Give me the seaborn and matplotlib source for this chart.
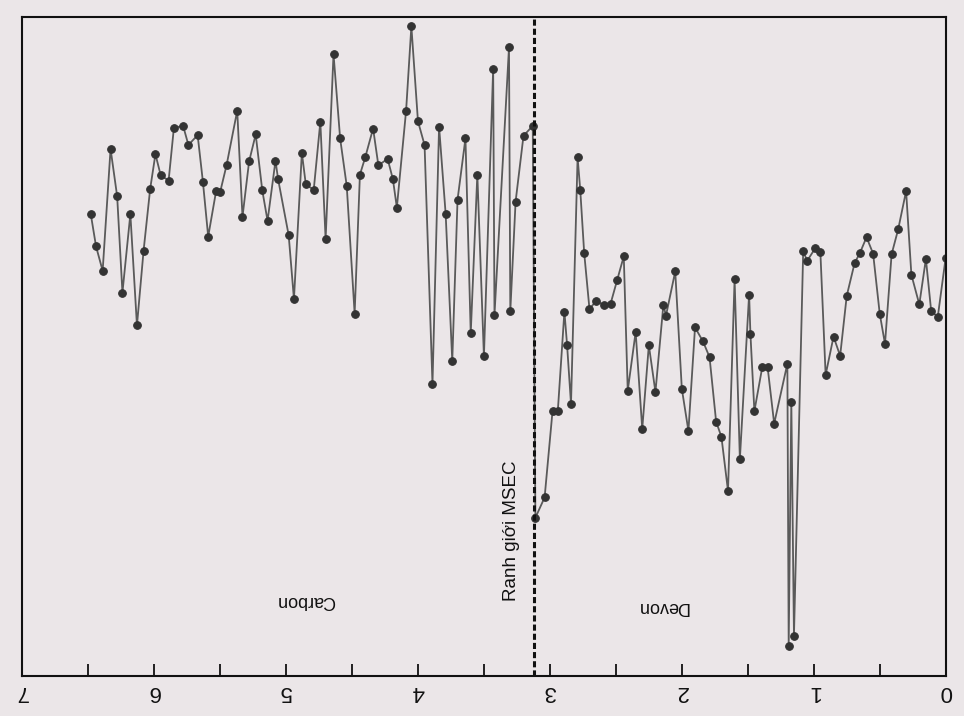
"""Magnetic susceptibility curve across the Devon / Carbon boundary (MSEC)."""

import matplotlib
matplotlib.use("Agg")
import matplotlib.pyplot as plt
import pandas as pd
import seaborn as sns
from matplotlib.ticker import MultipleLocator, NullFormatter

# Values (depth in m, signal in arbitrary units 0-100)
depth_carbon = [
    6.48, 6.44, 6.39, 6.33, 6.28, 6.24, 6.18, 6.13, 6.08, 6.03, 5.99, 5.95, 5.89,
    5.85, 5.78, 5.74, 5.67, 5.63, 5.59, 5.53, 5.50, 5.45, 5.37, 5.33, 5.28, 5.23,
    5.18, 5.14, 5.08, 5.06, 4.98, 4.94, 4.88, 4.85, 4.79, 4.74, 4.70, 4.64, 4.59,
    4.54, 4.48, 4.44, 4.40, 4.34, 4.30, 4.23, 4.19, 4.16, 4.09, 4.05, 4.00, 3.95,
    3.89, 3.84, 3.79, 3.74, 3.70, 3.64, 3.60, 3.55, 3.50, 3.43, 3.42, 3.31, 3.30,
    3.26, 3.20, 3.13,
]
value_carbon = [
    70.1, 65.2, 61.5, 80.0, 72.8, 58.2, 70.1, 53.2, 64.5, 73.9, 79.2, 76.0, 75.2,
    83.2, 83.5, 80.6, 82.1, 75.0, 66.7, 73.6, 73.4, 77.6, 85.8, 69.7, 78.1, 82.2,
    73.7, 69.1, 78.2, 75.4, 66.9, 57.2, 79.4, 74.6, 73.8, 84.1, 66.3, 94.4, 81.6,
    74.4, 55.0, 76.1, 78.7, 83.1, 77.5, 78.5, 75.4, 71.1, 85.8, 98.6, 84.2, 80.6,
    44.3, 83.4, 70.1, 47.8, 72.3, 81.6, 52.0, 76.1, 48.5, 92.2, 54.8, 95.4, 55.4,
    72.0, 82.0, 83.5,
]
depth_devon = [
    3.11, 3.04, 2.98, 2.94, 2.89, 2.87, 2.84, 2.79, 2.77, 2.74, 2.70, 2.65, 2.59,
    2.54, 2.49, 2.44, 2.41, 2.35, 2.30, 2.25, 2.20, 2.14, 2.12, 2.05, 2.00, 1.95,
    1.90, 1.84, 1.79, 1.74, 1.70, 1.65, 1.60, 1.56, 1.49, 1.48, 1.45, 1.39, 1.35,
    1.30, 1.20, 1.19, 1.17, 1.15, 1.08, 1.05, 0.99, 0.95, 0.91, 0.85, 0.80, 0.75,
    0.69, 0.65, 0.60, 0.55, 0.50, 0.46, 0.41, 0.36, 0.30, 0.26, 0.20, 0.15, 0.11,
    0.06, 0.00,
]
value_devon = [
    24.0, 27.1, 40.2, 40.2, 55.3, 50.3, 41.3, 78.7, 73.8, 64.2, 55.7, 56.9, 56.3,
    56.5, 60.1, 63.7, 43.3, 52.2, 37.5, 50.2, 43.1, 56.3, 54.7, 61.4, 43.6, 37.2,
    52.9, 50.8, 48.4, 38.6, 36.3, 28.1, 60.2, 32.9, 57.9, 51.9, 40.2, 46.9, 46.9,
    38.3, 47.4, 4.6, 41.6, 6.1, 64.5, 63.0, 64.9, 64.4, 45.7, 51.5, 48.6, 57.7,
    62.7, 64.2, 66.6, 64.1, 55.0, 50.4, 64.0, 67.8, 73.6, 60.9, 56.4, 63.3, 55.4,
    54.5, 63.5,
]
boundary_depth = 3.12
x_ticks = [7, 6, 5, 4, 3, 2, 1, 0]
period_labels = ["Carbon", "Devon"]
boundary_label = "Ranh giới MSEC"

df = pd.DataFrame({
    "depth": depth_carbon + depth_devon,
    "value": value_carbon + value_devon,
})

sns.set_style("ticks")
plt.rcParams["font.family"] = ["Liberation Sans", "DejaVu Sans"]

paper = "#ebe6e8"
fig = plt.figure(figsize=(9.64, 7.16), dpi=100, facecolor=paper)
ax = fig.add_axes([0.023, 0.056, 0.958, 0.92])
ax.set_facecolor(paper)

sns.lineplot(
    data=df, x="depth", y="value", sort=False, estimator=None, ax=ax,
    color="#5a5a5a", linewidth=1.3, marker="o", markersize=5.5,
    markerfacecolor="#333333", markeredgecolor="#333333",
)
ax.axvline(boundary_depth, color="#111111", linestyle=(0, (2.0, 1.0)), linewidth=2.2)

ax.set_xlim(7, 0)
ax.set_ylim(0, 100)
ax.set_xticks(x_ticks)
ax.xaxis.set_minor_locator(MultipleLocator(0.5))
ax.xaxis.set_minor_formatter(NullFormatter())
ax.set_yticks([])
ax.tick_params(axis="x", which="major", direction="in", length=9, width=1.3,
               labelsize=16, labelrotation=180, pad=4, colors="#111111")
ax.tick_params(axis="x", which="minor", direction="in", length=9, width=1.3,
               colors="#111111")
ax.set_xlabel("")
ax.set_ylabel("")

for side in ["left", "right", "top", "bottom"]:
    ax.spines[side].set_visible(True)
    ax.spines[side].set_color("#111111")
    ax.spines[side].set_linewidth(1.5)

# Period names are printed upside down, like the tick labels
ax.text(4.85, 11.5, period_labels[0], rotation=180, ha="center", va="center",
        fontsize=13, color="#111111")
ax.text(2.15, 10.5, period_labels[1], rotation=180, ha="center", va="center",
        fontsize=13, color="#111111")
ax.text(3.29, 22, boundary_label, rotation=90, ha="center", va="center",
        fontsize=13.5, color="#111111")

fig.savefig("out.png", dpi=100, facecolor=paper)
plt.close(fig)
